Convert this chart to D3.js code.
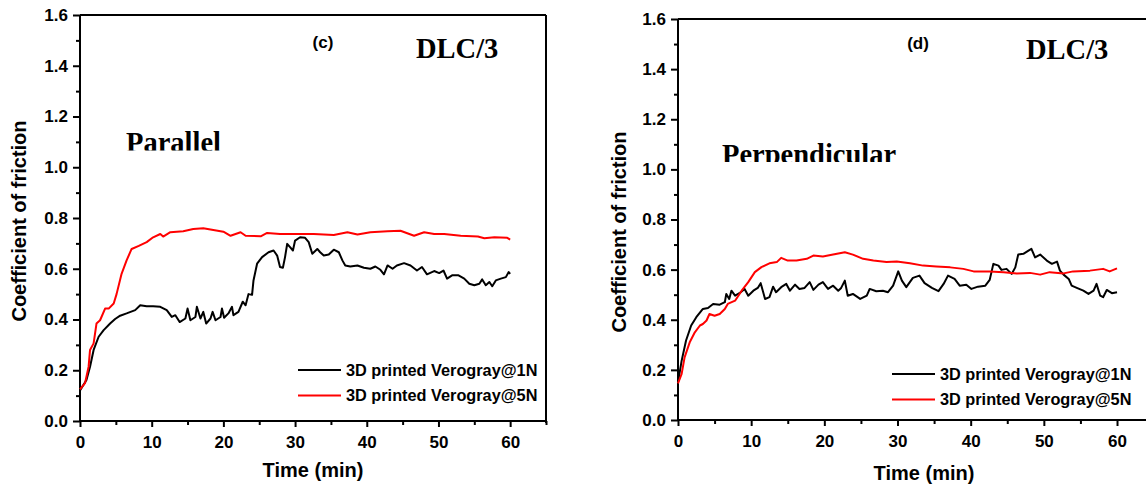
<!DOCTYPE html>
<html>
<head>
<meta charset="utf-8">
<script src="https://cdn.jsdelivr.net/npm/d3@7"></script>
<style>
  html, body { margin: 0; padding: 0; background: #fff; }
  svg { display: block; }
  .tick-label { font-family: "Liberation Sans", Arial, sans-serif; font-weight: bold; font-size: 17px; fill: #000; }
  .axis-title { font-family: "Liberation Sans", Arial, sans-serif; font-weight: bold; font-size: 20px; fill: #000; }
  .legend-text { font-family: "Liberation Sans", Arial, sans-serif; font-weight: bold; font-size: 16.3px; fill: #000; }
  .serif { font-family: "Liberation Serif", "Times New Roman", serif; font-weight: bold; font-size: 28.5px; fill: #000; }
</style>
</head>
<body>
<svg id="chart" width="1146" height="486"></svg>
<script>
// ---- Data: coefficient of friction vs time (min) ----
// Panel (c): Parallel
const parTime1N = [0,0.9,1.4,1.9,2.6,3.3,4.2,4.9,5.6,6.5,7.7,8.4,9.3,10.2,11.2,12.1,12.8,13.3,13.9,14.7,15.0,15.4,16.1,16.3,16.8,17.2,17.6,18.2,18.5,18.9,19.6,19.8,20.1,20.7,21.2,21.4,22.1,22.7,23.1,23.5,24.0,24.2,24.7,25.4,26.3,27.0,27.5,27.9,28.3,28.6,28.9,29.3,29.7,30.0,30.7,31.4,31.9,32.4,33.1,33.5,34.0,34.7,35.4,36.1,36.6,37.0,37.7,38.7,39.6,40.5,41.2,41.9,42.4,42.9,43.6,44.2,45.2,46.1,47.0,47.7,48.4,49.4,50.1,50.7,51.2,51.9,52.8,53.6,54.3,55.0,55.7,56.1,56.6,57.1,57.5,58.0,58.7,59.4,59.8,60];
const parCof1N  = [0.12,0.162,0.214,0.28,0.332,0.358,0.384,0.402,0.415,0.424,0.437,0.456,0.452,0.452,0.45,0.437,0.41,0.417,0.39,0.404,0.443,0.397,0.41,0.45,0.404,0.43,0.384,0.404,0.43,0.397,0.41,0.443,0.407,0.424,0.45,0.417,0.43,0.47,0.456,0.50,0.497,0.554,0.62,0.646,0.665,0.672,0.652,0.607,0.604,0.646,0.698,0.685,0.672,0.711,0.724,0.722,0.705,0.659,0.678,0.665,0.652,0.656,0.675,0.665,0.633,0.613,0.609,0.613,0.604,0.60,0.609,0.596,0.578,0.613,0.60,0.613,0.622,0.613,0.593,0.607,0.578,0.591,0.583,0.593,0.561,0.574,0.574,0.561,0.541,0.535,0.541,0.558,0.535,0.548,0.531,0.554,0.561,0.567,0.587,0.58];
const parTime5N = [0,0.7,1.2,1.4,1.9,2.3,2.8,3.5,4.0,4.7,5.1,5.8,6.5,7.2,8.2,9.3,10.2,11.2,11.6,12.6,14.4,15.8,17.2,18.6,20.0,21.0,22.4,23.1,25.2,26.1,27.9,29.8,32.6,35.4,37.3,38.7,40.5,42.9,44.7,46.6,48.0,49.4,50.8,53.1,55.5,56.4,57.8,59.6,60];
const parCof5N  = [0.125,0.149,0.214,0.28,0.306,0.384,0.397,0.443,0.443,0.463,0.50,0.58,0.633,0.678,0.69,0.705,0.724,0.737,0.727,0.744,0.748,0.757,0.76,0.753,0.746,0.73,0.744,0.73,0.728,0.741,0.737,0.737,0.737,0.733,0.744,0.735,0.744,0.748,0.75,0.73,0.744,0.737,0.737,0.73,0.727,0.72,0.724,0.722,0.715];

// Panel (d): Perpendicular
const perTime1N = [0,0.5,1.1,1.8,2.5,3.4,4.1,4.8,5.7,6.4,6.6,7.0,7.3,7.8,8.4,9.1,9.6,10.3,10.9,11.3,11.9,12.5,13.0,13.4,14.1,14.8,15.3,16.0,16.6,17.3,18.0,18.5,19.2,19.8,20.5,21.2,21.9,22.3,22.8,23.2,23.9,24.9,25.8,26.2,27.1,28.0,28.7,29.4,30.1,30.6,31.2,32.1,33.0,33.7,34.7,35.6,36.3,36.9,37.8,38.5,39.4,40.1,41.0,42.0,42.6,43.1,43.8,44.2,44.9,45.6,46.1,46.5,47.2,47.9,48.3,48.8,49.5,50.4,51.1,51.8,52.2,52.7,53.4,53.8,54.5,55.4,56.1,56.8,57.2,57.7,58.1,58.6,59.3,60];
const perCof1N  = [0.15,0.237,0.317,0.377,0.41,0.443,0.447,0.463,0.46,0.47,0.503,0.483,0.516,0.496,0.506,0.523,0.496,0.516,0.527,0.546,0.483,0.49,0.532,0.51,0.53,0.543,0.516,0.54,0.523,0.527,0.55,0.519,0.54,0.55,0.523,0.536,0.516,0.527,0.556,0.496,0.503,0.483,0.496,0.523,0.514,0.516,0.51,0.536,0.593,0.556,0.53,0.567,0.576,0.546,0.527,0.514,0.543,0.576,0.563,0.536,0.54,0.523,0.532,0.536,0.559,0.623,0.616,0.599,0.603,0.583,0.609,0.66,0.663,0.676,0.683,0.649,0.66,0.636,0.623,0.632,0.596,0.58,0.563,0.536,0.527,0.516,0.503,0.516,0.543,0.496,0.49,0.519,0.506,0.51];
const perTime5N = [0,0.5,0.9,1.6,2.3,3.0,3.4,3.9,4.3,5.0,5.7,6.4,6.8,7.8,8.7,9.6,10.5,11.4,12.5,13.5,14.1,15.0,16.2,17.6,18.5,19.8,21.2,22.8,23.9,25.3,26.7,28.5,29.9,31.7,33.5,35.3,37.2,39.0,40.4,42.6,44.5,46.3,48.1,49.5,50.8,52.7,54.0,56.3,58.1,59.0,60];
const perCof5N  = [0.146,0.184,0.25,0.31,0.35,0.377,0.383,0.397,0.423,0.416,0.423,0.443,0.463,0.476,0.516,0.55,0.59,0.61,0.625,0.63,0.647,0.636,0.636,0.643,0.656,0.652,0.66,0.669,0.66,0.643,0.636,0.63,0.632,0.625,0.616,0.612,0.609,0.603,0.593,0.593,0.59,0.585,0.587,0.58,0.59,0.585,0.593,0.596,0.603,0.593,0.605];

const xTicks = [0, 10, 20, 30, 40, 50, 60];
const xMinorTicks = [5, 15, 25, 35, 45, 55, 65];
const yTicks = [0, 0.2, 0.4, 0.6, 0.8, 1.0, 1.2, 1.4, 1.6];
const yMinorTicks = [0.1, 0.3, 0.5, 0.7, 0.9, 1.1, 1.3, 1.5];
const seriesNames = ["3D printed Verogray@1N", "3D printed Verogray@5N"];
const seriesColors = ["#000000", "#ff0000"];

const svg = d3.select("#chart");

function drawPanel(cfg) {
  const x = d3.scaleLinear().domain([0, 65]).range([cfg.x0, cfg.x1]);
  const y = d3.scaleLinear().domain([0, 1.6]).range([cfg.y0, cfg.y1]);
  const g = svg.append("g");

  // frame (top and right)
  g.append("line").attr("x1", x(0)).attr("x2", x(65)).attr("y1", y(1.6)).attr("y2", y(1.6))
    .attr("stroke", "#000").attr("stroke-width", 2);
  g.append("line").attr("x1", x(65)).attr("x2", x(65)).attr("y1", y(1.6)).attr("y2", y(0) + 2)
    .attr("stroke", "#000").attr("stroke-width", 2);

  // x axis
  const xAxis = g.append("g").attr("transform", `translate(0,${y(0)})`)
    .call(d3.axisBottom(x).tickValues(xTicks).tickFormat(d3.format("d")).tickSize(6).tickPadding(9));
  g.append("g").attr("transform", `translate(0,${y(0)})`)
    .call(d3.axisBottom(x).tickValues(xMinorTicks).tickFormat("").tickSize(4))
    .call(a => a.select(".domain").remove());

  // y axis
  const yAxis = g.append("g").attr("transform", `translate(${x(0)},0)`)
    .call(d3.axisLeft(y).tickValues(yTicks).tickFormat(d3.format(".1f")).tickSize(7).tickPadding(5));
  g.append("g").attr("transform", `translate(${x(0)},0)`)
    .call(d3.axisLeft(y).tickValues(yMinorTicks).tickFormat("").tickSize(4))
    .call(a => a.select(".domain").remove());

  g.selectAll(".domain").attr("stroke", "#000").attr("stroke-width", 2);
  g.selectAll(".tick line").attr("stroke", "#000").attr("stroke-width", 2);
  g.selectAll(".tick text").attr("class", "tick-label").attr("fill", "#000");
  xAxis.selectAll(".domain").attr("d", `M${x(0)},0H${x(65)}`);
  yAxis.selectAll(".domain").attr("d", `M0,${y(0)}V${y(1.6)}`);

  // series
  const line = d3.line().x(d => x(d[0])).y(d => y(d[1]));
  cfg.series.forEach((s, i) => {
    const pts = s.t.map((t, k) => [t, s.v[k]]);
    g.append("path").datum(pts).attr("d", line)
      .attr("fill", "none").attr("stroke", seriesColors[i])
      .attr("stroke-width", 2).attr("stroke-linejoin", "round");
  });

  // legend
  seriesNames.forEach((name, i) => {
    const ly = cfg.legY + i * 25.5;
    g.append("line").attr("x1", cfg.legX).attr("x2", cfg.legX + 43)
      .attr("y1", ly).attr("y2", ly).attr("stroke", seriesColors[i]).attr("stroke-width", 2);
    g.append("text").attr("class", "legend-text").attr("x", cfg.legX + 48).attr("y", ly + 5.5).text(name);
  });

  // axis titles
  g.append("text").attr("class", "axis-title").attr("text-anchor", "middle")
    .attr("x", cfg.xTitleX).attr("y", cfg.xTitleY).text("Time (min)");
  g.append("text").attr("class", "axis-title").attr("text-anchor", "middle")
    .attr("transform", `translate(${cfg.yTitleX},${cfg.yTitleY}) rotate(-90)`).text("Coefficient of friction");

  // annotations
  g.append("text").attr("class", "tick-label").attr("text-anchor", "middle")
    .attr("x", cfg.tagX).attr("y", cfg.tagY).text(cfg.tag);
  g.append("text").attr("class", "serif").attr("x", cfg.dlcX).attr("y", cfg.dlcY).text("DLC/3");

  const clipId = "clip-" + cfg.tag.replace(/[()]/g, "");
  svg.append("clipPath").attr("id", clipId).append("rect")
    .attr("x", cfg.dirX - 5).attr("y", cfg.dirY - 30).attr("width", 260).attr("height", 30 - cfg.dirClip);
  g.append("text").attr("class", "serif").attr("clip-path", `url(#${clipId})`)
    .attr("x", cfg.dirX).attr("y", cfg.dirY).text(cfg.dir);
}

drawPanel({
  x0: 80, x1: 546, y0: 421, y1: 15,
  series: [{ t: parTime1N, v: parCof1N }, { t: parTime5N, v: parCof5N }],
  legX: 298, legY: 370,
  xTitleX: 313, xTitleY: 477, yTitleX: 26, yTitleY: 221,
  tag: "(c)", tagX: 323, tagY: 48,
  dlcX: 416, dlcY: 58,
  dir: "Parallel", dirX: 126, dirY: 152, dirClip: 1.5
});

drawPanel({
  x0: 678, x1: 1153.6, y0: 420, y1: 19,
  series: [{ t: perTime1N, v: perCof1N }, { t: perTime5N, v: perCof5N }],
  legX: 892, legY: 374,
  xTitleX: 924, xTitleY: 480, yTitleX: 626, yTitleY: 232,
  tag: "(d)", tagX: 918, tagY: 49,
  dlcX: 1026, dlcY: 59,
  dir: "Perpendicular", dirX: 722, dirY: 164, dirClip: 2
});
</script>
</body>
</html>
